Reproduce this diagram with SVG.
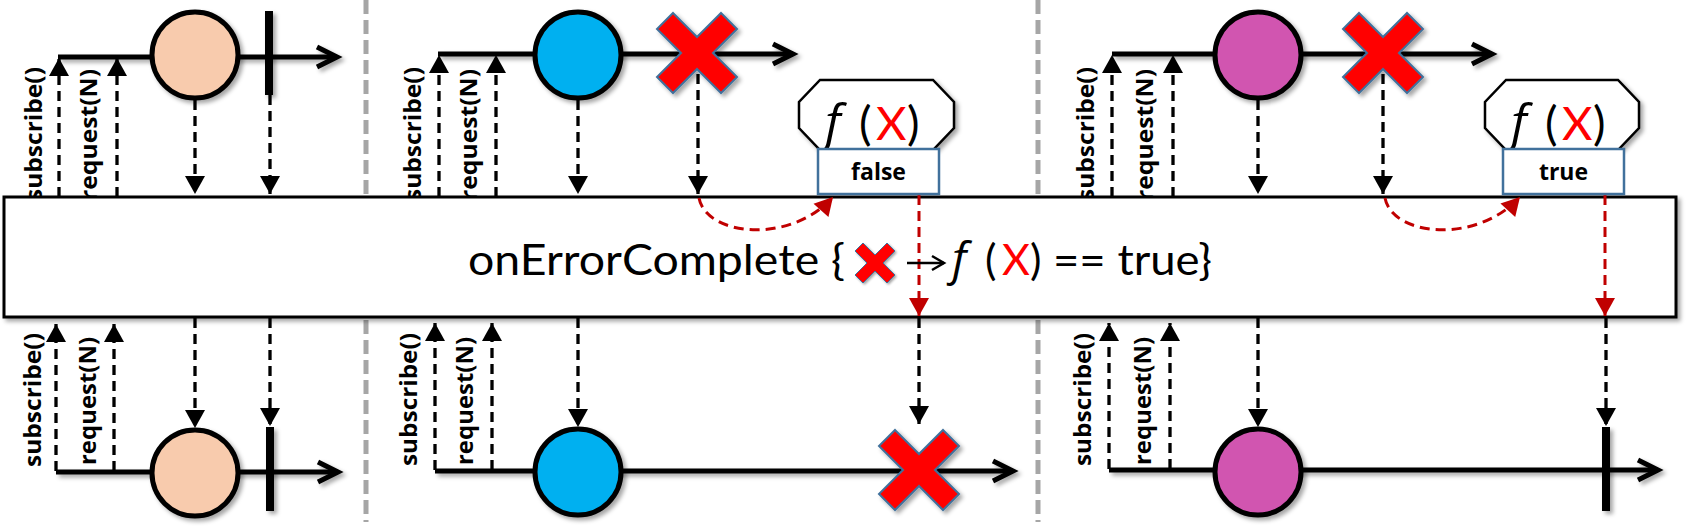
<svg xmlns="http://www.w3.org/2000/svg" width="1694" height="531" viewBox="0 0 1694 531">
<style>
.tl{fill:none;stroke:#000;stroke-width:5;marker-end:url(#open)}
.dash{fill:none;stroke:#000;stroke-width:3.3;stroke-dasharray:10 6;marker-end:url(#tri)}
.rdash{fill:none;stroke:#c00000;stroke-width:3;stroke-dasharray:10 6;marker-end:url(#trired)}
.div{fill:none;stroke:#a6a6a6;stroke-width:5;stroke-dasharray:14 6}
.marble{stroke:#000;stroke-width:5}
.bar{fill:#000}
.lbl{font-family:"Open Sans",Lato,sans-serif;font-weight:bold;font-size:24px;fill:#000}
.big{font-family:Lato,"Open Sans",sans-serif;font-size:43px;fill:#000}
.fx{font-family:Lato,"Open Sans",sans-serif;font-size:47px;fill:#000}
.it{font-family:"Open Sans","Noto Sans",sans-serif;font-style:italic}
.val{font-family:"Open Sans",Lato,sans-serif;font-weight:bold;font-size:23px;fill:#000}
.oct{fill:#fff;stroke:#000;stroke-width:2.5}
.vbox{fill:#fff;stroke:#41719c;stroke-width:2.5}
.xm{fill:#ff0000;stroke:#41719c;stroke-width:2}
</style>
<defs>
<filter id="sh" x="-20%" y="-20%" width="140%" height="150%">
<feDropShadow dx="3" dy="3" stdDeviation="2" flood-color="#000" flood-opacity="0.35"/>
</filter>
<marker id="open" markerUnits="userSpaceOnUse" markerWidth="30" markerHeight="30" refX="20" refY="10" orient="auto" overflow="visible">
<path d="M0,0 L20,10 L0,20" fill="none" stroke="#000" stroke-width="5"/>
</marker>
<marker id="openthin" markerUnits="userSpaceOnUse" markerWidth="20" markerHeight="20" refX="12" refY="7" orient="auto" overflow="visible">
<path d="M0,0 L12,7 L0,14" fill="none" stroke="#000" stroke-width="2.5"/>
</marker>
<marker id="tri" markerUnits="userSpaceOnUse" markerWidth="20" markerHeight="22" refX="18" refY="10" orient="auto" overflow="visible">
<path d="M0,0 L18,10 L0,20 z" fill="#000"/>
</marker>
<marker id="trired" markerUnits="userSpaceOnUse" markerWidth="20" markerHeight="22" refX="18" refY="10" orient="auto" overflow="visible">
<path d="M0,0 L18,10 L0,20 z" fill="#c00000"/>
</marker>
<path id="xshape" d="M-24,-40 L0,-16 L24,-40 L40,-24 L16,0 L40,24 L24,40 L0,16 L-24,40 L-40,24 L-16,0 L-40,-24 Z"/>
</defs>

<g id="dividers">
<line class="div" x1="366" y1="0" x2="366" y2="522"/>
<line class="div" x1="1038" y1="0" x2="1038" y2="522"/>
</g>

<g id="labels">
<text class="lbl" transform="translate(42,201) rotate(-90)" textLength="134" lengthAdjust="spacingAndGlyphs">subscribe()</text>
<text class="lbl" transform="translate(97,201) rotate(-90)" textLength="132" lengthAdjust="spacingAndGlyphs">request(N)</text>
<text class="lbl" transform="translate(421,201) rotate(-90)" textLength="134" lengthAdjust="spacingAndGlyphs">subscribe()</text>
<text class="lbl" transform="translate(477,201) rotate(-90)" textLength="132" lengthAdjust="spacingAndGlyphs">request(N)</text>
<text class="lbl" transform="translate(1094,201) rotate(-90)" textLength="134" lengthAdjust="spacingAndGlyphs">subscribe()</text>
<text class="lbl" transform="translate(1153,201) rotate(-90)" textLength="132" lengthAdjust="spacingAndGlyphs">request(N)</text>
<text class="lbl" transform="translate(41,467) rotate(-90)" textLength="134" lengthAdjust="spacingAndGlyphs">subscribe()</text>
<text class="lbl" transform="translate(96,465) rotate(-90)" textLength="128" lengthAdjust="spacingAndGlyphs">request(N)</text>
<text class="lbl" transform="translate(417,466) rotate(-90)" textLength="133" lengthAdjust="spacingAndGlyphs">subscribe()</text>
<text class="lbl" transform="translate(473,465) rotate(-90)" textLength="128" lengthAdjust="spacingAndGlyphs">request(N)</text>
<text class="lbl" transform="translate(1091,466) rotate(-90)" textLength="133" lengthAdjust="spacingAndGlyphs">subscribe()</text>
<text class="lbl" transform="translate(1151,465) rotate(-90)" textLength="128" lengthAdjust="spacingAndGlyphs">request(N)</text>
</g>

<g id="timelines" filter="url(#sh)">
<path class="tl" d="M58,57 H337"/>
<path class="tl" d="M438,54 H793"/>
<path class="tl" d="M1112,54 H1492"/>
<path class="tl" d="M56,472 H338"/>
<path class="tl" d="M435,471 H1013"/>
<path class="tl" d="M1109,470 H1658"/>
</g>

<g id="operator">
<rect x="4" y="197" width="1672" height="120" fill="#fff" stroke="#000" stroke-width="3" filter="url(#sh)"/>
</g>

<g id="connectors">
<line class="dash" x1="59" y1="197" x2="59" y2="58"/>
<line class="dash" x1="117" y1="197" x2="117" y2="58"/>
<line class="dash" x1="195" y1="100" x2="195" y2="194"/>
<line class="dash" x1="270" y1="95" x2="270" y2="194"/>
<line class="dash" x1="439" y1="197" x2="439" y2="55"/>
<line class="dash" x1="496" y1="197" x2="496" y2="55"/>
<line class="dash" x1="578" y1="100" x2="578" y2="194"/>
<line class="dash" x1="698" y1="74" x2="698" y2="194"/>
<line class="dash" x1="1112" y1="197" x2="1112" y2="55"/>
<line class="dash" x1="1173" y1="197" x2="1173" y2="55"/>
<line class="dash" x1="1258" y1="100" x2="1258" y2="194"/>
<line class="dash" x1="1383" y1="74" x2="1383" y2="194"/>
<line class="dash" x1="56" y1="471" x2="56" y2="324"/>
<line class="dash" x1="114" y1="471" x2="114" y2="324"/>
<line class="dash" x1="195" y1="318" x2="195" y2="428"/>
<line class="dash" x1="270" y1="318" x2="270" y2="426"/>
<line class="dash" x1="435" y1="470" x2="435" y2="323"/>
<line class="dash" x1="492" y1="470" x2="492" y2="323"/>
<line class="dash" x1="578" y1="318" x2="578" y2="427"/>
<line class="dash" x1="919" y1="318" x2="919" y2="424"/>
<line class="dash" x1="1109" y1="469" x2="1109" y2="323"/>
<line class="dash" x1="1170" y1="469" x2="1170" y2="323"/>
<line class="dash" x1="1258" y1="318" x2="1258" y2="427"/>
<line class="dash" x1="1606" y1="318" x2="1606" y2="426"/>
<path class="rdash" d="M699,198 C706,236 790,245 833,197"/>
<path class="rdash" d="M1385,198 C1392,236 1476,245 1520,197"/>
<line class="rdash" x1="919" y1="195" x2="919" y2="316"/>
<line class="rdash" x1="1605" y1="195" x2="1605" y2="316"/>
</g>

<g id="marble-peach-top" filter="url(#sh)">
<circle class="marble" cx="195" cy="55" r="43" fill="#f8cbad"/>
<rect class="bar" x="265" y="11" width="8" height="84"/>
</g>
<g id="marble-blue-top" filter="url(#sh)">
<circle class="marble" cx="578" cy="55" r="43" fill="#00b0f0"/>
<use href="#xshape" class="xm" x="697" y="53"/>
</g>
<g id="marble-pink-top" filter="url(#sh)">
<circle class="marble" cx="1258" cy="55" r="43" fill="#d155b0"/>
<use href="#xshape" class="xm" x="1383" y="53"/>
</g>
<g id="marble-peach-bottom" filter="url(#sh)">
<circle class="marble" cx="195" cy="473" r="43" fill="#f8cbad"/>
<rect class="bar" x="266" y="427" width="8" height="84"/>
</g>
<g id="marble-blue-bottom" filter="url(#sh)">
<circle class="marble" cx="578" cy="472" r="43" fill="#00b0f0"/>
<use href="#xshape" class="xm" x="919" y="470"/>
</g>
<g id="marble-pink-bottom" filter="url(#sh)">
<circle class="marble" cx="1258" cy="472" r="43" fill="#d155b0"/>
<rect class="bar" x="1602" y="427" width="8" height="84"/>
</g>

<g id="predicate-false">
<polygon class="oct" filter="url(#sh)" points="820,80 933,80 954,102 954,128 933,150 820,150 799,128 799,102"/>
<text class="fx" y="140"><tspan class="it" x="825" font-size="50">f</tspan><tspan x="859">(</tspan><tspan x="876" fill="#ff0000">X</tspan><tspan x="907">)</tspan></text>
<rect class="vbox" x="818" y="149" width="121" height="45"/>
<text class="val" x="878.5" y="180" text-anchor="middle">false</text>
</g>

<g id="predicate-true">
<polygon class="oct" filter="url(#sh)" points="1506,80 1618,80 1639,102 1639,128 1618,150 1506,150 1485,128 1485,102"/>
<text class="fx" y="140"><tspan class="it" x="1511" font-size="50">f</tspan><tspan x="1545">(</tspan><tspan x="1562" fill="#ff0000">X</tspan><tspan x="1593">)</tspan></text>
<rect class="vbox" x="1503" y="149" width="121" height="45"/>
<text class="val" x="1563.5" y="180" text-anchor="middle">true</text>
</g>

<g id="operator-label">
<text class="big" x="468" y="275" textLength="377" lengthAdjust="spacingAndGlyphs">onErrorComplete {</text>
<use href="#xshape" class="xm" transform="translate(875,263) scale(0.5)" filter="url(#sh)"/>
<line x1="907" y1="263" x2="944" y2="263" stroke="#000" stroke-width="2.5" marker-end="url(#openthin)"/>
<text class="big" y="275"><tspan class="it" x="952" font-size="46">f</tspan><tspan x="985">(</tspan><tspan x="1002" fill="#ff0000">X</tspan><tspan x="1030">)</tspan></text>
<text class="big" x="1053" y="275" textLength="159" lengthAdjust="spacingAndGlyphs">== true}</text>
</g>
</svg>
